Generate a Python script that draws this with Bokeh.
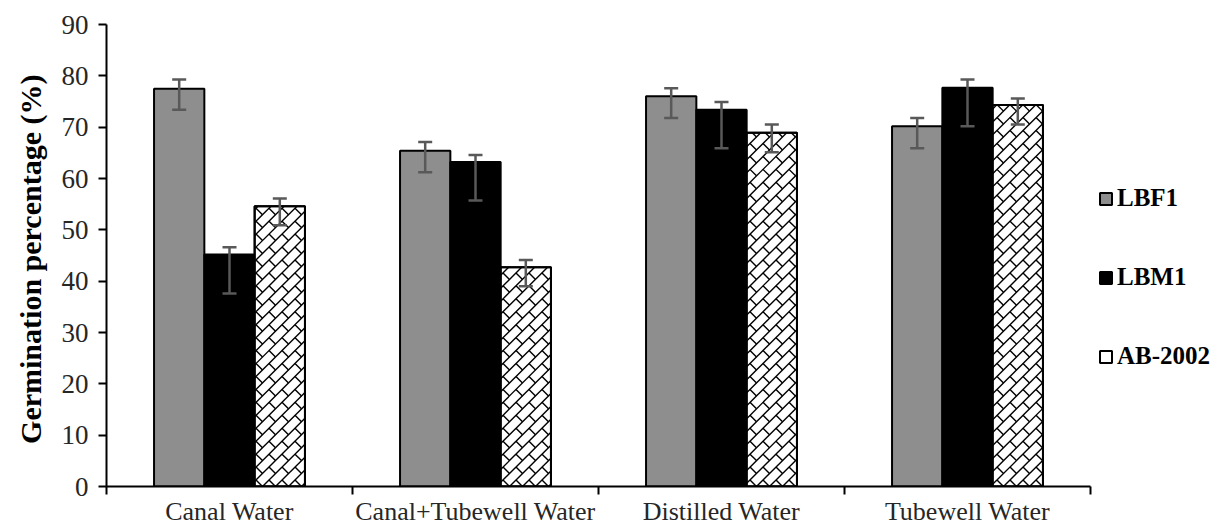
import math
from bokeh.plotting import figure
from bokeh.models import (ColumnDataSource, Whisker, TeeHead, FixedTicker, Legend,
                          LegendItem, Range1d, LinearAxis)
from bokeh.embed import file_html
from bokeh.resources import INLINE

categories = ["Canal Water", "Canal+Tubewell Water", "Distilled Water", "Tubewell Water"]
series = ["LBF1", "LBM1", "AB-2002"]

lbf1 = [77.5, 65.4, 76.0, 70.2]
lbm1 = [45.2, 63.2, 73.4, 77.7]
ab2002 = [54.6, 42.7, 68.9, 74.3]

lbf1_upper = [79.3, 67.1, 77.6, 71.8]
lbf1_lower = [73.4, 61.2, 71.8, 65.9]
lbm1_upper = [46.6, 64.6, 74.9, 79.3]
lbm1_lower = [37.6, 55.7, 65.9, 70.2]
ab_upper = [56.1, 44.1, 70.5, 75.6]
ab_lower = [50.9, 39.0, 65.1, 70.5]

y_ticks = [0, 10, 20, 30, 40, 50, 60, 70, 80, 90]

SERIF = "Liberation Serif"
BAR_W = 0.2045
W, H = 1218, 528
LEFT, TOP, RIGHT, BOTTOM = 106, 24, 2, 40
FRAME_W = W - LEFT - RIGHT
FRAME_H = H - TOP - BOTTOM
Y_MAX = 90
PX_X = 246.0                      # pixels per category
X_END = FRAME_W / PX_X            # frame extends right to hold the legend
PX_Y = FRAME_H / Y_MAX
BRICK = 13.0

p = figure(width=W, height=H, output_backend="svg", toolbar_location=None,
           title=None, x_axis_type=None, y_axis_type=None,
           x_range=Range1d(0, X_END), y_range=Range1d(0, Y_MAX),
           min_border_left=LEFT, min_border_right=RIGHT, min_border_top=TOP,
           min_border_bottom=BOTTOM)
p.outline_line_color = None
p.xgrid.visible = False
p.ygrid.visible = False
p.background_fill_color = "white"
p.border_fill_color = "white"


def clip(x0, y0, x1, y1, L, R, B, T):
    dx, dy = x1 - x0, y1 - y0
    u0, u1 = 0.0, 1.0
    for pi, qi in ((-dx, x0 - L), (dx, R - x0), (-dy, y0 - B), (dy, T - y0)):
        if pi == 0:
            if qi < 0:
                return None
        else:
            t = qi / pi
            if pi < 0:
                u0 = max(u0, t)
            else:
                u1 = min(u1, t)
    if u0 >= u1:
        return None
    return (x0 + u0 * dx, y0 + u0 * dy, x0 + u1 * dx, y0 + u1 * dy)


def brick_segments(xc, top):
    """diagonal brick texture for one bar, computed in screen pixels then mapped to data."""
    L = (xc - BAR_W / 2) * PX_X
    R = (xc + BAR_W / 2) * PX_X
    B, T = 0.0, top * PX_Y
    s = BRICK
    segs = []
    kmin = math.floor((B - R) / s) - 1
    kmax = math.ceil((T - L) / s) + 1
    for k in range(kmin, kmax + 1):
        a = k * s
        c = clip(L - 5, L - 5 + a, R + 5, R + 5 + a, L, R, B, T)
        if c:
            segs.append(c)
        mmin = math.floor((L + B - a) / (2 * s)) - 1
        mmax = math.ceil((R + T - a) / (2 * s)) + 1
        for m in range(mmin, mmax + 1):
            cc = a + 2 * m * s
            c = clip((cc - a) / 2, (cc + a) / 2, (cc - a - s) / 2, (cc + a + s) / 2, L, R, B, T)
            if c:
                segs.append(c)
    return [(x0 / PX_X, y0 / PX_Y, x1 / PX_X, y1 / PX_Y) for x0, y0, x1, y1 in segs]


fills = ["#8e8e8e", "black", "white"]
values = [lbf1, lbm1, ab2002]
uppers = [lbf1_upper, lbm1_upper, ab_upper]
lowers = [lbf1_lower, lbm1_lower, ab_lower]

renderers = []
sources = []
for k, name in enumerate(series):
    offset = (k - 1) * BAR_W
    xs = [i + 0.5 + offset for i in range(len(categories))]
    src = ColumnDataSource(dict(x=xs, top=values[k], upper=uppers[k], lower=lowers[k]))
    sources.append(src)
    r = p.vbar(x="x", top="top", width=BAR_W, source=src, line_color="black",
               line_width=2, fill_color=fills[k])
    renderers.append(r)

# brick texture for AB-2002
segs = []
for xc, top in zip(sources[2].data["x"], ab2002):
    segs += brick_segments(xc, top)
p.segment(x0=[s[0] for s in segs], y0=[s[1] for s in segs],
          x1=[s[2] for s in segs], y1=[s[3] for s in segs],
          line_color="black", line_width=1.4)
# re-draw outlines on top of texture
p.vbar(x="x", top="top", width=BAR_W, source=sources[2], line_color="black",
       line_width=2, fill_color=None)

for src in sources:
    w = Whisker(source=src, base="x", upper="upper", lower="lower",
                line_color="#595959", line_width=2.5, level="annotation",
                upper_head=TeeHead(size=14, line_color="#595959", line_width=2.5),
                lower_head=TeeHead(size=14, line_color="#595959", line_width=2.5))
    p.add_layout(w)

# y axis
yaxis = LinearAxis(ticker=FixedTicker(ticks=y_ticks))
yaxis.axis_line_width = 2
yaxis.axis_line_color = "black"
yaxis.major_tick_line_width = 2
yaxis.major_tick_line_color = "black"
yaxis.major_tick_out = 8
yaxis.major_tick_in = 0
yaxis.minor_tick_line_color = None
yaxis.major_label_standoff = 10
yaxis.major_label_text_font = SERIF
yaxis.major_label_text_font_size = "27px"
yaxis.major_label_text_color = "#262626"
yaxis.axis_label = "Germination  percentage (%)"
yaxis.axis_label_text_font = SERIF
yaxis.axis_label_text_font_style = "bold"
yaxis.axis_label_text_font_size = "30px"
yaxis.axis_label_text_color = "black"
yaxis.axis_label_standoff = 12
p.add_layout(yaxis, "left")

# x axis: labels at category centres, ticks at category boundaries
centers = [i + 0.5 for i in range(len(categories))]
bounds = [i for i in range(len(categories) + 1)]
xaxis = LinearAxis(ticker=FixedTicker(ticks=centers, minor_ticks=bounds),
                   bounds=(0, len(categories)))
xaxis.major_label_overrides = {c: cat for c, cat in zip(centers, categories)}
xaxis.axis_line_width = 2
xaxis.axis_line_color = "black"
xaxis.major_tick_line_color = None
xaxis.major_tick_out = 0
xaxis.major_tick_in = 0
xaxis.minor_tick_line_color = "black"
xaxis.minor_tick_line_width = 2
xaxis.minor_tick_out = 8
xaxis.minor_tick_in = 0
xaxis.major_label_standoff = 2
xaxis.major_label_text_font = SERIF
xaxis.major_label_text_font_size = "26px"
xaxis.major_label_text_color = "#262626"
p.add_layout(xaxis, "below")

legend = Legend(items=[LegendItem(label=s, renderers=[r]) for s, r in zip(series, renderers)],
                location=(992, 116), orientation="vertical")
legend.label_text_font = SERIF
legend.label_text_font_style = "bold"
legend.label_text_font_size = "25px"
legend.label_text_color = "black"
legend.glyph_width = 15
legend.glyph_height = 15
legend.label_standoff = 4
legend.spacing = 51
legend.padding = 0
legend.margin = 0
legend.border_line_color = None
legend.background_fill_alpha = 0
p.add_layout(legend, "center")

open("out.html", "w").write(file_html(p, INLINE))
